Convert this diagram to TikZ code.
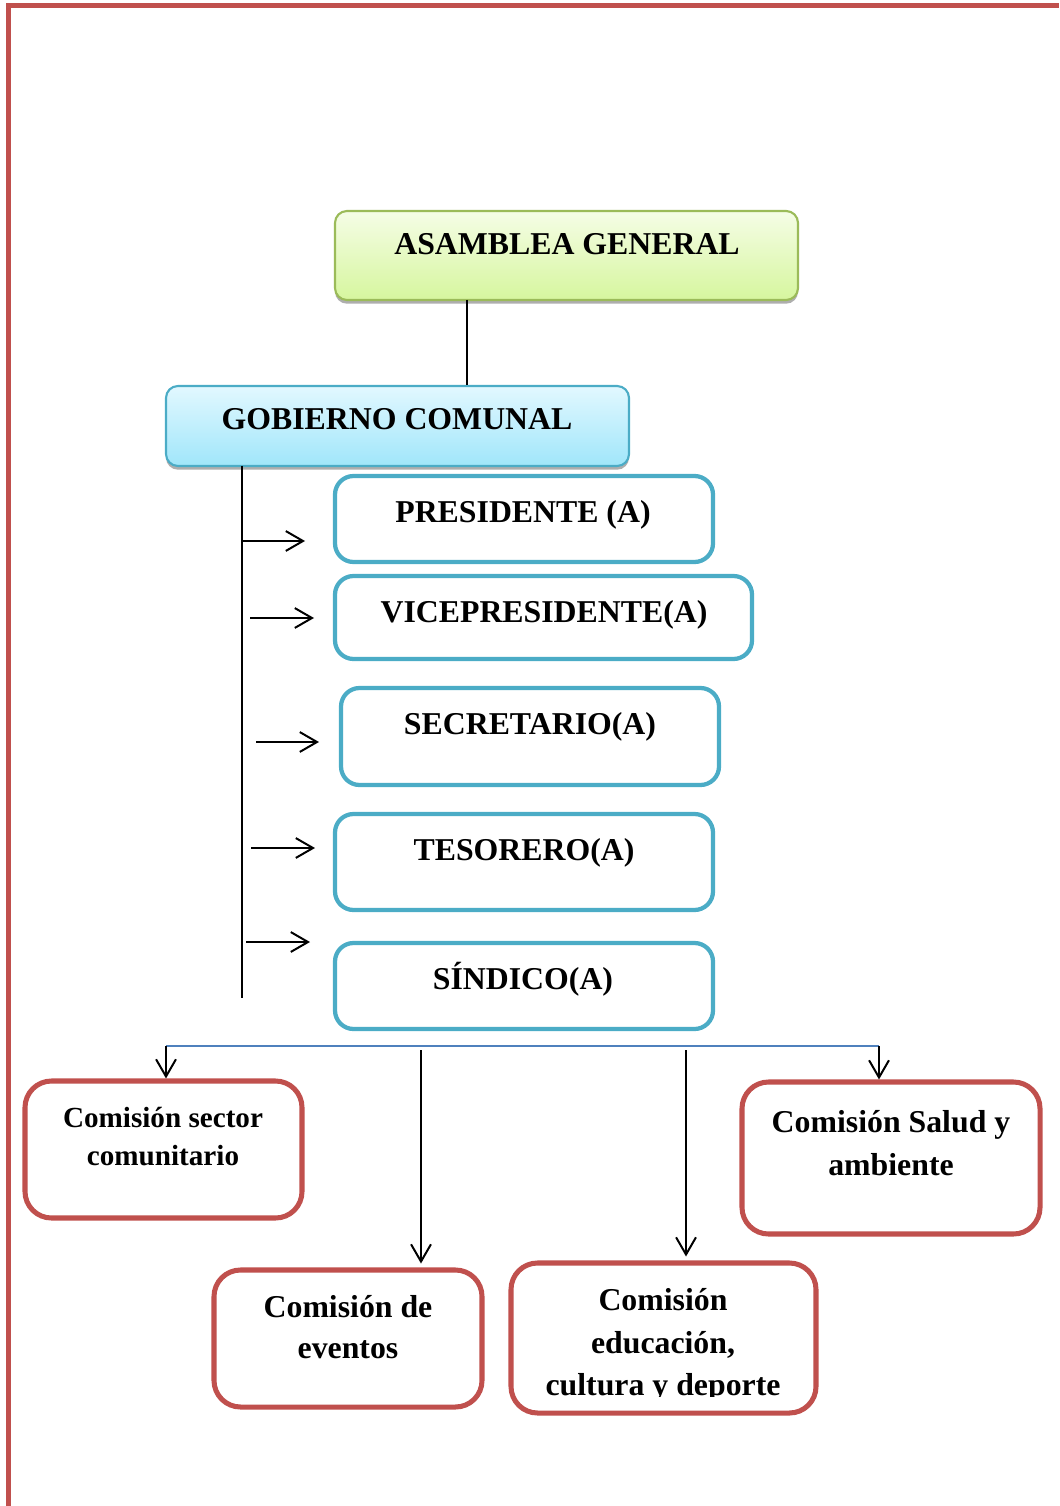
\documentclass[tikz,border=0pt]{standalone}
\usepackage{fontspec}
\setmainfont{Liberation Serif}
\usetikzlibrary{arrows.meta,shadows}
\definecolor{pagered}{RGB}{192,80,77}
\definecolor{grnborder}{RGB}{155,187,89}
\definecolor{grntop}{RGB}{245,253,230}
\definecolor{grnbot}{RGB}{214,246,158}
\definecolor{bluborder}{RGB}{75,172,198}
\definecolor{blutop}{RGB}{226,248,255}
\definecolor{blubot}{RGB}{160,230,250}
\definecolor{busblue}{RGB}{79,129,189}
\tikzset{
  headbox/.style={draw, line width=0.8pt, rounded corners=4.5pt, inner sep=0pt,
    drop shadow={shadow xshift=0pt, shadow yshift=-1.4pt, fill=black!45, opacity=0.7}},
  rolebox/.style={draw=bluborder, fill=white, line width=1.6pt, rounded corners=7pt, inner sep=0pt},
  combox/.style={draw=pagered, fill=white, line width=1.9pt, rounded corners=10pt, inner sep=0pt},
  lbl/.style={anchor=base, inner sep=0pt, font=\fontsize{12}{14}\selectfont\bfseries},
  lblsmall/.style={anchor=base, inner sep=0pt, font=\fontsize{11}{13}\selectfont\bfseries},
  conn/.style={draw=black, line width=0.75pt},
  arr/.style={conn, -{Straight Barb[length=6.5pt, width=7.5pt, line width=0.75pt]}},
}
\begin{document}
\begin{tikzpicture}[x=0.3774pt, y=-0.3774pt]
\useasboundingbox (0,0) rectangle (1059,1506);
% page border
\draw[pagered, line width=1.9pt] (8.5,1506) -- (8.5,5.5) -- (1059,5.5);

% head boxes
\node[headbox, draw=grnborder, top color=grntop, bottom color=grnbot,
      minimum width=463*0.3774pt, minimum height=89*0.3774pt] (asam) at (566.5,255.5) {};
\node[lbl] (asamt) at (567,255) {ASAMBLEA GENERAL};
\node[headbox, draw=bluborder, top color=blutop, bottom color=blubot,
      minimum width=463*0.3774pt, minimum height=80*0.3774pt] (gob) at (397.5,426) {};
\node[lbl] (gobt) at (397,430) {GOBIERNO COMUNAL};

% role boxes
\node[rolebox, minimum width=378*0.3774pt, minimum height=86*0.3774pt] (pres) at (524,519) {};
\node[lbl] (prest) at (523,522) {PRESIDENTE (A)};
\node[rolebox, minimum width=417*0.3774pt, minimum height=83*0.3774pt] (vice) at (543.5,617.5) {};
\node[lbl] (vicet) at (544,622) {VICEPRESIDENTE(A)};
\node[rolebox, minimum width=378*0.3774pt, minimum height=97*0.3774pt] (sec) at (530,736.5) {};
\node[lbl] (sect) at (530,734) {SECRETARIO(A)};
\node[rolebox, minimum width=378*0.3774pt, minimum height=96*0.3774pt] (tes) at (524,862) {};
\node[lbl] (test) at (524,860) {TESORERO(A)};
\node[rolebox, minimum width=378*0.3774pt, minimum height=86*0.3774pt] (sin) at (524,986) {};
\node[lbl] (sint) at (523,989) {SÍNDICO(A)};

% connectors top
\coordinate (j1) at (467,300);
\draw[conn] (j1) -- (j1 |- gob.north);
\coordinate (t1) at (242,466);
\coordinate (t2) at (242,998);
\draw[conn] (t1) -- (t2);
\coordinate (a1s) at (242,541); \coordinate (a1e) at (305,541);
\coordinate (a2s) at (250,618); \coordinate (a2e) at (314,618);
\coordinate (a3s) at (256,742); \coordinate (a3e) at (319,742);
\coordinate (a4s) at (251,848); \coordinate (a4e) at (315,848);
\coordinate (a5s) at (246,942); \coordinate (a5e) at (310,942);
\draw[arr] (a1s) -- (a1e);
\draw[arr] (a2s) -- (a2e);
\draw[arr] (a3s) -- (a3e);
\draw[arr] (a4s) -- (a4e);
\draw[arr] (a5s) -- (a5e);

% commission boxes
\node[combox, minimum width=277*0.3774pt, minimum height=137*0.3774pt] (c1) at (163.5,1149.5) {};
\node[lblsmall] (c1a) at (163,1127) {Comisión sector};
\node[lblsmall] (c1b) at (163,1165) {comunitario};
\node[combox, minimum width=298*0.3774pt, minimum height=152*0.3774pt] (c2) at (891,1158) {};
\node[lbl] (c2a) at (891,1132) {Comisión Salud y};
\node[lbl] (c2b) at (891,1175) {ambiente};
\node[combox, minimum width=268*0.3774pt, minimum height=137*0.3774pt] (c3) at (348,1338.5) {};
\node[lbl] (c3a) at (348,1317) {Comisión de};
\node[lbl] (c3b) at (348,1358) {eventos};
\node[combox, minimum width=305*0.3774pt, minimum height=150*0.3774pt] (c4) at (663.5,1338) {};
\node[lbl] (c4a) at (663,1310) {Comisión};
\node[lbl] (c4b) at (663,1353) {educación,};
\begin{scope}
\clip (511,1360) rectangle (816,1396);
\node[lbl] (c4c) at (663,1395) {cultura y deporte};
\end{scope}

% bus and arrows
\coordinate (b1) at (166,1046);
\coordinate (b2) at (879,1046);
\draw[draw=busblue, line width=0.8pt] (b1) -- (b2);
\draw[arr] (b1) -- (b1 |- c1.north);
\draw[arr] (b2) -- (b2 |- c2.north);
\coordinate (d3) at (421,1050);
\coordinate (d4) at (686,1050);
\draw[arr] (d3) -- ([yshift=1.5pt]d3 |- c3.north);
\draw[arr] (d4) -- ([yshift=1.5pt]d4 |- c4.north);
\end{tikzpicture}
\end{document}
